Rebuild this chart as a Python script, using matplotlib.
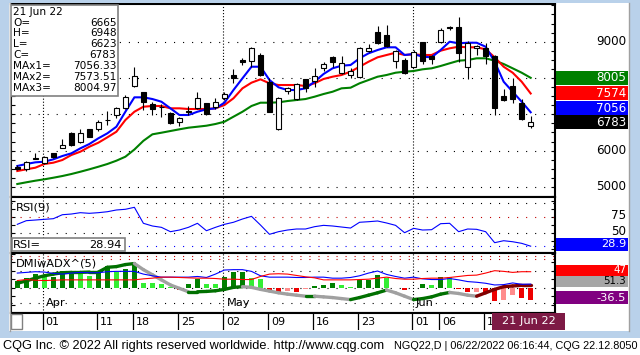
import numpy as np
import matplotlib
matplotlib.use("Agg")
import matplotlib.pyplot as plt
from matplotlib.patches import Rectangle

plt.rcParams['font.family'] = ['DejaVu Sans']
plt.rcParams['lines.scale_dashes'] = False

W, H = 640, 355

# NGQ22 daily bars, 29 Mar 2022 .. 21 Jun 2022 (58 sessions)
opens = [5560, 5485, 5790, 5650, 5925, 6080, 6493, 6228, 6587, 6587,
         6850, 6989, 7173, 7788, 7614, 7275, 7210, 7027, 6780, 7080,
         7165, 7303, 7193, 7457, 8083, 8496, 8477, 8634, 7898, 6587,
         7633, 7421, 7964, 7917, 8284, 8570, 8146, 8083, 8019, 8752,
         9259, 9185, 8477, 8496, 8311, 8983, 8606, 9000, 9380, 9397,
         8294, 8818, 8818, 8606, 7504, 7780, 7320, 6665]
highs = [5600, 5720, 5925, 5860, 5940, 6317, 6510, 6587, 6600, 6843,
         7100, 7210, 7530, 8311, 7625, 7347, 7283, 7072, 6934, 7230,
         7622, 7320, 7441, 7622, 8248, 8543, 8862, 8697, 7990, 7490,
         7760, 7850, 7981, 8267, 8449, 8606, 8606, 8267, 8862, 8937,
         9433, 9460, 8771, 8550, 8760, 9000, 8634, 9369, 9433, 9672,
         9028, 8909, 8956, 8634, 7689, 7992, 7413, 6948]
lows = [5470, 5440, 5760, 5640, 5800, 6063, 6140, 6200, 6370, 6548,
        6700, 6890, 7146, 7760, 7118, 6981, 6917, 6724, 6686, 6981,
        7146, 6990, 7146, 7394, 7854, 8358, 8311, 8055, 7071, 6560,
        7551, 7390, 7622, 7760, 8193, 8311, 8110, 7992, 7990, 8708,
        8937, 8862, 8267, 8110, 8290, 8377, 8377, 8972, 9322, 8449,
        7972, 8634, 8386, 6981, 7366, 7303, 6843, 6623]
closes = [5500, 5694, 5775, 5830, 5815, 6146, 6146, 6476, 6383, 6780,
          6830, 7165, 7485, 8055, 7339, 7138, 7190, 6752, 6890, 7060,
          7441, 7000, 7347, 7551, 8008, 8449, 8835, 8083, 7071, 7441,
          7716, 7826, 7733, 8055, 8386, 8441, 8405, 8193, 8818, 8835,
          8972, 8890, 8743, 8129, 8708, 8477, 8515, 9322, 9370, 8680,
          8972, 8882, 8614, 7165, 7394, 7430, 6870, 6783]

ma1 = [5576, 5631, 5677, 5694, 5760, 5851, 5925, 6063, 6182, 6339,
       6476, 6658, 7071, 7468, 7468, 7421, 7347, 7165, 6981, 6981,
       7071, 7138, 7165, 7320, 7669, 7992, 8311, 8311, 7945, 7744,
       7669, 7669, 7716, 7898, 8110, 8267, 8339, 8358, 8543, 8680,
       8771, 8846, 8846, 8634, 8661, 8587, 8570, 8771, 9000, 8956,
       8972, 8972, 8862, 8449, 7898, 7622, 7347, 7056.33]
ma2 = [5438, 5485, 5529, 5631, 5667, 5741, 5879, 5970, 6107, 6218,
       6366, 6520, 6843, 7071, 7209, 7229, 7229, 7165, 7165, 7146,
       7146, 7146, 7165, 7256, 7441, 7716, 7871, 7964, 7854, 7807,
       7807, 7807, 7780, 7854, 7973, 8036, 8083, 8174, 8311, 8449,
       8570, 8634, 8697, 8634, 8653, 8634, 8634, 8752, 8818, 8862,
       8846, 8846, 8790, 8570, 8311, 8146, 7898, 7573.51]
ma3 = [5080, 5127, 5171, 5209, 5253, 5300, 5355, 5418, 5485, 5556,
       5631, 5722, 5832, 6030, 6270, 6449, 6493, 6540, 6587, 6631,
       6658, 6686, 6733, 6796, 6934, 7071, 7229, 7320, 7320, 7330,
       7366, 7394, 7421, 7485, 7559, 7622, 7716, 7733, 7854, 7945,
       8036, 8083, 8146, 8174, 8193, 8240, 8267, 8331, 8405, 8477,
       8496, 8543, 8543, 8477, 8386, 8267, 8146, 8004.97]

rsi = [63.1, 68.8, 69.8, 70.9, 71.9, 78.1, 79.2, 81.3, 80.3, 81.3,
       82.8, 85.5, 86.6, 89.7, 64.7, 60.5, 58.4, 51.6, 54.2, 58.4,
       64.7, 53.1, 58.4, 63.1, 66.3, 71.4, 75.6, 62.0, 47.5, 51.6,
       54.2, 55.8, 55.8, 59.4, 61.5, 60.5, 58.9, 57.3, 66.3, 67.2,
       68.3, 65.2, 61.5, 50.0, 56.8, 54.2, 54.7, 64.1, 64.7, 51.6,
       55.8, 55.3, 51.6, 34.4, 37.5, 35.9, 33.4, 28.94]

dmi_plus = [43, 45, 47, 46, 42, 40, 43, 45, 44, 44,
            47, 48, 48, 48, 40, 35, 31, 31, 31, 31,
            33, 30, 40, 52, 53, 53, 48, 35, 31, 31,
            31, 30, 30, 31, 31, 28, 28, 30, 35, 43,
            49, 39, 33, 28, 31, 26, 24, 24, 27, 23,
            18, 16, 13, 8, 9, 14, 10, 10.5]
dmi_minus = [21, 24, 22, 21, 22, 23, 23, 23, 23, 23,
             23, 23, 23, 23, 26, 28, 31, 31, 30, 29,
             28, 28, 27, 25, 25, 24, 24, 33, 40, 41,
             40, 36, 32, 29, 23, 23, 23, 23, 24, 25,
             28, 31, 27, 25, 25, 27, 28, 28, 30, 33,
             36, 37, 43, 50, 48, 45, 47, 47]
dmi_osc = [21, 28, 40, 31, 31, 48, 48, 40, 35, 45,
           63, 45, 55, 68, 15, 13, 11, 3, -6, 10,
           27, 12, 10, 30, 47, 47, 28, 25, -9, -17,
           -9, -12, -5, 6, 9, 14, 7, 2, 22, 22,
           37, 29, 0, -6, 0, 10, 9, 31, 30, -4,
           -13, -12, -17, -40, -35, -22, -30, -36.5]
adx_line = [13, 20, 28, 35, 40, 44, 45, 45, 46, 46,
            60, 62, 68, 71, 53, 38, 23, 8, -2, -12,
            -12, -11, -9, -5, 1, 3, 1, -5, -10, -15,
            -19, -22, -25, -25, -27, -29, -32, -35, -29, -22,
            -15, -7, -15, -25, -35, -32, -27, -19, -14, -17,
            -22, -25, -15, -5, 3, 5, 7, 7]
adx_last = 51.3

date_ticks = [3, 9, 13, 18, 23, 28, 33, 38, 44, 47, 52]
date_labels = ['01', '11', '18', '25', '02', '09', '16', '23', '01', '06', '13']
month_ticks = [3, 23, 44]
month_labels = ['Apr', 'May', 'Jun']

n = len(closes)
xs = np.arange(n)
o = np.array(opens, float)
c = np.array(closes, float)

fig = plt.figure(figsize=(W / 100, H / 100), dpi=100)
fig.patch.set_facecolor('white')


def px_box(x0, y0, x1, y1):
    return [x0 / W, 1 - y1 / H, (x1 - x0) / W, (y1 - y0) / H]


ax_p = fig.add_axes(px_box(11, 4, 555, 197))
ax_r = fig.add_axes(px_box(11, 197, 555, 253))
ax_d = fig.add_axes(px_box(11, 253, 555, 313))
ax_t = fig.add_axes(px_box(11, 313, 555, 330))

for ax in (ax_p, ax_r, ax_d, ax_t):
    ax.set_xlim(-0.7, 59.7)
    ax.set_xticks([])
    for s in ax.spines.values():
        s.set_color('black')
        s.set_linewidth(1.5)
    ax.tick_params(axis='y', which='both', direction='in', length=3, width=0.8,
                   left=True, right=True, labelleft=False, labelright=False)

dot_h = (0, (0.8, 5.7))
dot_v = (0, (0.8, 1.4))

# price panel
ax_p.set_ylim(4722, 10039)
ax_p.set_yticks(np.arange(4750, 10001, 250))
for v in range(5000, 10000, 1000):
    ax_p.axhline(v, color='black', lw=0.8, ls=dot_h, zorder=1)
for ax in (ax_p, ax_r, ax_d):
    for m in month_ticks:
        ax.axvline(m - 0.12, color='black', lw=0.8, ls=dot_v, zorder=1)

ax_p.plot(xs, ma3, color='#008000', lw=1.5, zorder=2)
ax_p.plot(xs, ma2, color='#ff0000', lw=1.5, zorder=2)
ax_p.plot(xs, ma1, color='#0000ff', lw=1.5, zorder=2)

up = c >= o
ax_p.vlines(xs, lows, highs, color='black', lw=0.8, zorder=3)
ax_p.bar(xs, np.maximum(np.abs(c - o), 25), bottom=np.minimum(o, c), width=0.5,
         color=np.where(up, 'white', 'black'), edgecolor='black', linewidth=0.8, zorder=4)

# RSI panel
ax_r.set_ylim(18.3, 105.8)
ax_r.set_yticks(np.arange(25, 101, 12.5))
ax_r.axhline(96, color='black', lw=0.8, ls=dot_h)
ax_r.axhline(75, color='#c00000', lw=0.8, ls=dot_h)
ax_r.axhline(50, color='black', lw=0.8, ls=dot_h)
ax_r.axhline(rsi[-1], color='#0000ff', lw=0.8, ls=dot_h)
ax_r.plot(xs, rsi, color='#0000ff', lw=0.8, zorder=3)

# DMI with ADX panel
ax_d.set_ylim(-74.4, 102)
ax_d.set_yticks(np.arange(-50, 101, 25))
for v, col in [(93, '#c00000'), (83, '#c00000'), (49, 'black'), (0, 'black'), (-46, 'black')]:
    ax_d.axhline(v, color=col, lw=0.8, ls=dot_h, zorder=1)

bar_cols = []
for i, v in enumerate(dmi_osc):
    prev = dmi_osc[i - 1] if i > 0 else 0
    if v >= 0:
        bar_cols.append('#008000' if v >= prev else '#33ee33')
    else:
        bar_cols.append('#ee0000' if v <= prev else '#ff8c8c')
ax_d.bar(xs, dmi_osc, width=0.55, color=bar_cols, zorder=2)

for i in range(n - 1):
    if adx_line[i + 1] < adx_line[i]:
        col = '#a0a0a0'
    elif dmi_osc[i + 1] >= 0:
        col = '#007000'
    else:
        col = '#800000'
    ax_d.plot([i, i + 1], [adx_line[i], adx_line[i + 1]], color=col, lw=2.4,
              solid_capstyle='round', zorder=2.5)
ax_d.plot(xs, dmi_plus, color='#0000ff', lw=0.8, zorder=3)
ax_d.plot(xs, dmi_minus, color='#ff0000', lw=0.8, zorder=3)

# date row
ax_t.set_ylim(0, 1)
ax_t.set_yticks([])
for s in ('left', 'right', 'bottom'):
    ax_t.spines[s].set_visible(False)
for t, lab in zip(date_ticks, date_labels):
    ax_t.plot([t - 0.15, t - 0.15], [0, 1], color='black', lw=0.9)
    ax_t.text(t + 0.15, 0.45, lab, fontsize=8, ha='left', va='center')

# overlay in pixel units for labels, boxes and window frame
over = fig.add_axes([0, 0, 1, 1])
over.set_zorder(10)
over.set_xlim(0, W)
over.set_ylim(H, 0)
over.axis('off')
over.patch.set_alpha(0)


def ypix(ax, v):
    return H - ax.transData.transform((0, v))[1]


def tag(y, txt, fc, tc='white', h=14, fs=8.6):
    over.add_patch(Rectangle((556, y - h / 2), 72, h, facecolor=fc, edgecolor='none'))
    over.text(626, y, txt, color=tc, fontsize=fs, ha='right', va='center')


y_green = ypix(ax_p, ma3[-1])
y_red = ypix(ax_p, ma2[-1])
y_black = ypix(ax_p, closes[-1])
y_blue = min(ypix(ax_p, ma1[-1]), y_black - 14)
tags_y = [y_green, y_red, y_blue, y_black]

# price scale labels that are not hidden by the value tags
for v in range(5000, 10000, 1000):
    yv = ypix(ax_p, v)
    if min(abs(yv - t) for t in tags_y) > 12:
        over.text(626, yv, str(v), fontsize=8.6, ha='right', va='center')
for v in (75, 50):
    over.text(626, ypix(ax_r, v) - 1.5, str(v), fontsize=8.6, ha='right', va='center')

tag(y_green, '%d' % round(ma3[-1]), '#008000')
tag(y_red, '%d' % round(ma2[-1]), '#ff0000')
tag(y_blue, '%d' % round(ma1[-1]), '#0000ff')
tag(y_black, '%d' % closes[-1], 'black')

tag(ypix(ax_r, rsi[-1]) - 2, '%.1f' % rsi[-1], '#0000ff', h=13, fs=8.2)
y_m = ypix(ax_d, dmi_minus[-1]) - 1.5
tag(y_m, '%d' % dmi_minus[-1], '#ff0000', h=11, fs=7.4)
tag(y_m + 11, '%.1f' % adx_last, '#a6a6a6', tc='black', h=11, fs=7.4)
tag(ypix(ax_d, dmi_osc[-1]) - 2.5, '%.1f' % dmi_osc[-1], '#800080', h=13, fs=8.2)

# info box
over.add_patch(Rectangle((10.5, 4.5), 107.5, 91.5, facecolor='white', edgecolor='#808080', lw=1.2))
info = [('21 Jun 22', ''), ('O=', '6665'), ('H=', '6948'), ('L=', '6623'), ('C=', '6783'),
        ('MAx1=', '7056.33'), ('MAx2=', '7573.51'), ('MAx3=', '8004.97')]
for k, (a, b) in enumerate(info):
    yy = 11.7 + k * 10.9
    over.text(13, yy, a, fontsize=7.6, ha='left', va='center')
    over.text(116.5, yy, b, fontsize=7.6, ha='right', va='center')

over.text(16, 207.5, 'RSI(9)', fontsize=8.2, ha='left', va='center')
over.add_patch(Rectangle((11.5, 238), 113, 13, facecolor='white', edgecolor='#808080', lw=1.2))
over.text(13, 244.5, 'RSI=', fontsize=8.2, ha='left', va='center')
over.text(122, 244.5, '%.2f' % rsi[-1], fontsize=8.2, ha='right', va='center')
over.text(16, 263, 'DMIwADX^(5)', fontsize=8.2, ha='left', va='center')

for m, lab in zip(month_ticks, month_labels):
    xm = fig.transFigure.inverted().transform(ax_d.transData.transform((m, 0)))[0] * W
    over.text(xm + 2, 303.5, lab, fontsize=8.2, ha='left', va='center')

over.add_patch(Rectangle((492, 313), 73, 17, facecolor='#7d1a45', edgecolor='none'))
over.text(528.5, 321.5, '21 Jun 22', color='white', fontsize=8.2, ha='center', va='center')
over.add_patch(Rectangle((10.5, 314), 11, 15, facecolor='white', edgecolor='#808080', lw=1))

# window frame and status bar
frame = '#b9d1ea'
over.add_patch(Rectangle((0, 0), 9, 338, facecolor=frame, edgecolor='none'))
over.add_patch(Rectangle((630, 0), 10, 338, facecolor=frame, edgecolor='none'))
over.add_patch(Rectangle((0, 0), W, 3, facecolor=frame, edgecolor='none'))
over.add_patch(Rectangle((0, 331), W, 7, facecolor=frame, edgecolor='none'))
over.plot([628.5, 628.5], [3, 331], color='#a0a0a0', lw=1)
over.plot([9.5, 9.5], [3, 331], color='#a0a0a0', lw=1)
over.text(3, 346, 'CQG Inc. \u00a9 2022 All rights reserved worldwide. http://www.cqg.com',
          family='Liberation Sans', fontsize=9.2, ha='left', va='center')
over.text(637, 346, 'NGQ22,D | 06/22/2022 06:16:44, CQG 22.12.8050',
          family='Liberation Sans', fontsize=7.8, ha='right', va='center')

fig.savefig('out.png', dpi=100, facecolor='white')
